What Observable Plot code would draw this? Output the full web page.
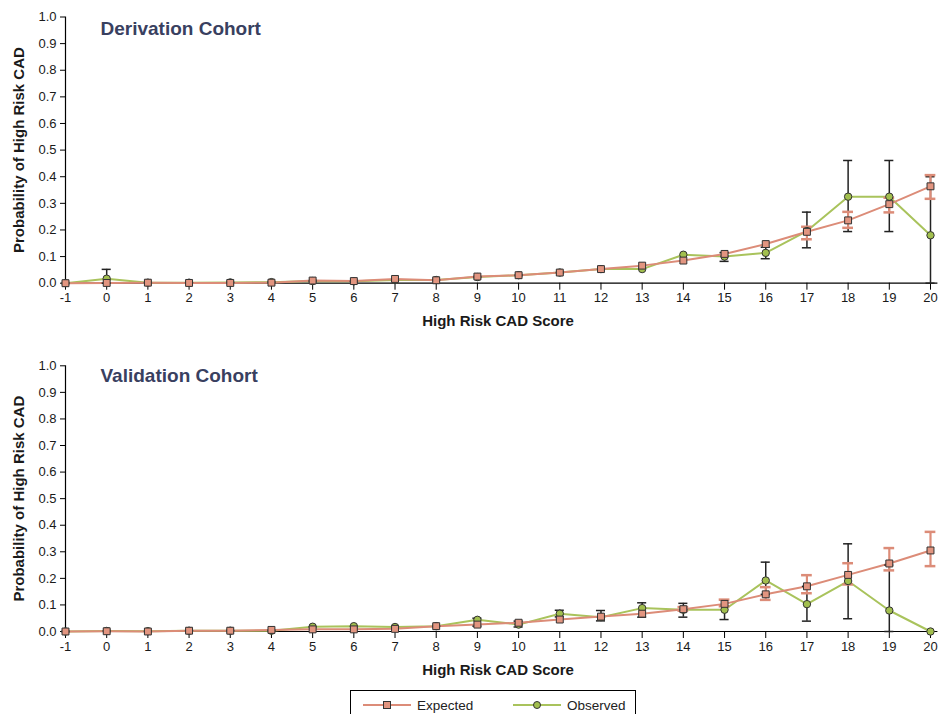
<!DOCTYPE html>
<html>
<head>
<meta charset="utf-8">
<script src="https://cdn.jsdelivr.net/npm/d3@7"></script>
<script src="https://cdn.jsdelivr.net/npm/@observablehq/plot@0.6"></script>
<style>
  html, body { margin: 0; padding: 0; background: #fff; }
  body { width: 940px; height: 714px; position: relative; overflow: hidden; font-family: "Liberation Sans", Arial, sans-serif; }
  #top { position: absolute; left: 0; top: 0; }
  #bottom { position: absolute; left: 0; top: 340px; }
  svg { display: block; }
  #legend { position: absolute; left: 350px; top: 690px; width: 286px; height: 40px; border: 1px solid #000; box-sizing: border-box; }
</style>
</head>
<body>
<div id="top"></div>
<div id="bottom"></div>
<div id="legend"></div>
<script>
// ---- data ----
const scores = [-1, 0, 1, 2, 3, 4, 5, 6, 7, 8, 9, 10, 11, 12, 13, 14, 15, 16, 17, 18, 19, 20];
const yTicks = [0, 0.1, 0.2, 0.3, 0.4, 0.5, 0.6, 0.7, 0.8, 0.9, 1.0];
const panelTitles = ["Derivation Cohort", "Validation Cohort"];
const seriesNames = ["Expected", "Observed"];
const xLabel = "High Risk CAD Score";
const yLabel = "Probability of High Risk CAD";

// Derivation cohort
const derivExpected = [0.000, 0.001, 0.002, 0.001, 0.001, 0.002, 0.010, 0.008, 0.016, 0.011, 0.025, 0.030, 0.040, 0.053, 0.066, 0.085, 0.110, 0.147, 0.193, 0.236, 0.297, 0.364];
const derivExpLo    = [null, null, null, null, null, null, null, null, null, null, null, null, null, null, null, null, null, null, 0.165, 0.208, 0.266, 0.317];
const derivExpHi    = [null, null, null, null, null, null, null, null, null, null, null, null, null, null, null, null, null, null, 0.212, 0.268, 0.321, 0.406];
const derivObserved = [0.000, 0.017, 0.002, 0.002, 0.003, 0.004, 0.008, 0.007, 0.012, 0.012, 0.023, 0.030, 0.040, 0.053, 0.053, 0.107, 0.100, 0.114, 0.196, 0.325, 0.325, 0.180];
const derivObsLo    = [null, 0.000, null, null, null, null, null, null, null, null, null, null, null, null, null, null, 0.082, 0.092, 0.133, 0.194, 0.194, 0.000];
const derivObsHi    = [null, 0.052, null, null, null, null, null, null, null, null, null, null, null, null, null, null, 0.115, 0.135, 0.267, 0.461, 0.461, 0.400];

// Validation cohort
const validExpected = [0.000, 0.001, 0.000, 0.003, 0.003, 0.006, 0.008, 0.008, 0.010, 0.020, 0.026, 0.033, 0.045, 0.056, 0.067, 0.084, 0.104, 0.140, 0.170, 0.213, 0.256, 0.305];
const validExpLo    = [null, null, null, null, null, null, null, null, null, null, null, null, null, null, null, 0.078, 0.095, 0.119, 0.144, 0.177, 0.230, 0.246];
const validExpHi    = [null, null, null, null, null, null, null, null, null, null, null, null, null, null, null, 0.092, 0.120, 0.167, 0.212, 0.257, 0.314, 0.375];
const validObserved = [0.000, 0.002, 0.001, 0.003, 0.003, 0.003, 0.018, 0.020, 0.017, 0.020, 0.044, 0.026, 0.067, 0.054, 0.088, 0.082, 0.082, 0.192, 0.103, 0.190, 0.079, 0.000];
const validObsLo    = [null, null, null, null, null, null, null, null, null, null, 0.020, 0.017, 0.055, 0.040, 0.054, 0.054, 0.045, 0.140, 0.039, 0.048, 0.000, null];
const validObsHi    = [null, null, null, null, null, null, null, null, null, null, 0.050, 0.039, 0.080, 0.079, 0.108, 0.106, 0.118, 0.261, 0.170, 0.330, 0.250, null];

// ---- styling ----
const expLine = "#dc8c78";
const expFill = "#e29580";
const obsLine = "#a9c35c";
const obsFill = "#a2bf4e";
const titleColor = "#39405f";
const font = '"Liberation Sans", Arial, sans-serif';

function panel(cfg) {
  const rows = scores.map((s, i) => ({
    score: s,
    exp: cfg.exp[i], expLo: cfg.expLo[i], expHi: cfg.expHi[i],
    obs: cfg.obs[i], obsLo: cfg.obsLo[i], obsHi: cfg.obsHi[i]
  }));
  const obsErr = rows.filter(d => d.obsLo != null);
  const expErr = rows.filter(d => d.expLo != null);
  const capB = 0.11, capE = 0.13;
  const svg = Plot.plot({
    width: 940,
    height: cfg.height,
    marginTop: cfg.marginTop,
    marginBottom: cfg.marginBottom,
    marginLeft: 65,
    marginRight: 10,
    style: { fontFamily: font, fontSize: "13px", color: "#1a1a1a", background: "#fff", overflow: "visible" },
    x: { domain: [-1, 20] },
    y: { domain: [0, 1] },
    marks: [
      Plot.axisX({ ticks: scores, tickSize: 7, tickPadding: 3, tickFormat: d => String(d),
        label: xLabel, labelAnchor: "center", labelArrow: "none", labelOffset: 43 }),
      Plot.axisY({ ticks: yTicks, tickSize: 5, tickPadding: 4, tickFormat: d3.format(".1f"),
        label: yLabel, labelAnchor: "center", labelArrow: "none", labelOffset: 52 }),
      Plot.ruleY([0], { x1: -1, x2: 20.18, stroke: "#000", strokeWidth: 1.2 }),
      Plot.ruleX([-1], { y1: 0, y2: 1, stroke: "#000", strokeWidth: 1.2 }),
      Plot.line(rows, { x: "score", y: "obs", stroke: obsLine, strokeWidth: 2 }),
      Plot.line(rows, { x: "score", y: "exp", stroke: expLine, strokeWidth: 2 }),
      Plot.ruleX(obsErr, { x: "score", y1: "obsLo", y2: "obsHi", stroke: "#222", strokeWidth: 1.5 }),
      Plot.ruleY(obsErr, { y: "obsHi", x1: d => d.score - capB, x2: d => d.score + capB, stroke: "#222", strokeWidth: 1.5 }),
      Plot.ruleY(obsErr, { y: "obsLo", x1: d => d.score - capB, x2: d => d.score + capB, stroke: "#222", strokeWidth: 1.5 }),
      Plot.ruleX(expErr, { x: "score", y1: "expLo", y2: "expHi", stroke: expLine, strokeWidth: 2.2 }),
      Plot.ruleY(expErr, { y: "expHi", x1: d => d.score - capE, x2: d => d.score + capE, stroke: expLine, strokeWidth: 2.5 }),
      Plot.ruleY(expErr, { y: "expLo", x1: d => d.score - capE, x2: d => d.score + capE, stroke: expLine, strokeWidth: 2.5 }),
      Plot.dot(rows, { x: "score", y: "obs", r: 3.7, fill: obsFill, stroke: "#333", strokeWidth: 1 }),
      Plot.dot(rows, { x: "score", y: "exp", r: 3.9, symbol: "square", fill: expFill, stroke: "#333", strokeWidth: 1 }),
      Plot.text([cfg.title], { frameAnchor: "top-left", text: d => d, dx: 35, dy: cfg.titleDy, fontSize: 19, fontWeight: "bold", fill: titleColor, textAnchor: "start" })
    ]
  });
  const s = d3.select(svg);
  s.selectAll('g[aria-label="x-axis tick label"], g[aria-label="y-axis tick label"]').attr("font-size", 13);
  s.selectAll('g[aria-label="x-axis label"], g[aria-label="y-axis label"]').attr("font-size", 15).attr("font-weight", "bold");
  s.selectAll('g[aria-label="x-axis tick"], g[aria-label="y-axis tick"]').attr("stroke", "#000");
  return svg;
}

const topPlot = panel({ exp: derivExpected, expLo: derivExpLo, expHi: derivExpHi, obs: derivObserved, obsLo: derivObsLo, obsHi: derivObsHi,
  title: panelTitles[0], height: 330, marginTop: 16.5, marginBottom: 47.3, titleDy: 4 });
document.getElementById("top").appendChild(topPlot);

const bottomPlot = panel({ exp: validExpected, expLo: validExpLo, expHi: validExpHi, obs: validObserved, obsLo: validObsLo, obsHi: validObsHi,
  title: panelTitles[1], height: 340, marginTop: 25.3, marginBottom: 49, titleDy: 3 });
document.getElementById("bottom").appendChild(bottomPlot);

// ---- legend ----
const legend = d3.select("#legend");
const items = [
  { name: seriesNames[0], line: expLine, fill: expFill, symbol: "square", x: 12 },
  { name: seriesNames[1], line: obsLine, fill: obsFill, symbol: "circle", x: 162 }
];
items.forEach(it => {
  const span = legend.append("div")
    .style("position", "absolute").style("left", it.x + "px").style("top", "4px")
    .style("display", "flex").style("align-items", "center").style("height", "20px");
  const svg = span.append("svg").attr("width", 48).attr("height", 14);
  svg.append("line").attr("x1", 0).attr("x2", 48).attr("y1", 7).attr("y2", 7).attr("stroke", it.line).attr("stroke-width", 2);
  if (it.symbol === "square") {
    svg.append("rect").attr("x", 20.5).attr("y", 3.5).attr("width", 7).attr("height", 7).attr("fill", it.fill).attr("stroke", "#333");
  } else {
    svg.append("circle").attr("cx", 24).attr("cy", 7).attr("r", 3.5).attr("fill", it.fill).attr("stroke", "#333");
  }
  span.append("span").text(it.name)
    .style("margin-left", "6px").style("font-size", "13.5px").style("color", "#222").style("font-family", font);
});
</script>
</body>
</html>
